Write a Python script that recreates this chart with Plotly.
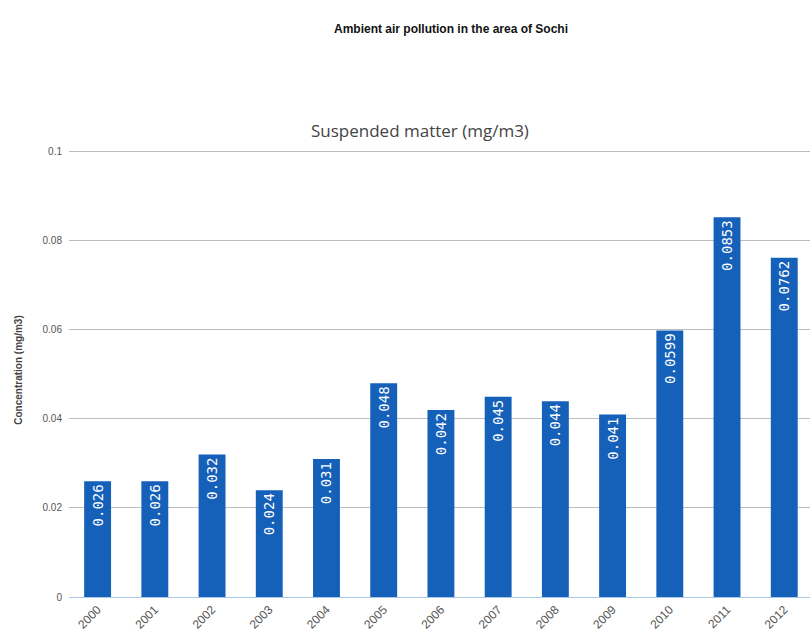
import plotly.graph_objects as go

years = ["2000", "2001", "2002", "2003", "2004", "2005", "2006",
         "2007", "2008", "2009", "2010", "2011", "2012"]
concentration = [0.026, 0.026, 0.032, 0.024, 0.031, 0.048, 0.042,
                 0.045, 0.044, 0.041, 0.0599, 0.0853, 0.0762]
value_labels = ["0.026", "0.026", "0.032", "0.024", "0.031", "0.048", "0.042",
                "0.045", "0.044", "0.041", "0.0599", "0.0853", "0.0762"]
y_ticks = [0, 0.02, 0.04, 0.06, 0.08, 0.1]

bar_color = "#1560b8"

fig = go.Figure(
    go.Bar(
        x=years,
        y=concentration,
        text=value_labels,
        textposition="inside",
        insidetextanchor="end",
        textangle=-90,
        textfont=dict(family="DejaVu Sans Mono", size=14, color="white"),
        marker=dict(color=bar_color, line=dict(width=0)),
        width=0.47,
        cliponaxis=False,
    )
)

top_margin = 143
fig.update_layout(
    width=810,
    height=640,
    margin=dict(l=69, r=0, t=top_margin, b=43),
    paper_bgcolor="white",
    plot_bgcolor="white",
    showlegend=False,
    uniformtext=dict(minsize=8, mode="show"),
    annotations=[
        dict(text="<b>Ambient air pollution in the area of Sochi</b>",
             x=451, y=640 - 20, xref="paper", yref="paper",
             showarrow=False, font=dict(family="Liberation Sans", size=12, color="#111111")),
        dict(text="Suspended matter (mg/m3)",
             x=420, y=640 - 117, xref="paper", yref="paper",
             showarrow=False, font=dict(family="Open Sans", size=17, color="#444444")),
    ],
)

# annotation positions above are given in pixels; convert them to paper units
plot_w = 810 - 69
plot_h = 640 - top_margin - 43
for ann in fig.layout.annotations:
    ann.x = (ann.x - 69) / plot_w
    ann.y = (ann.y - 43) / plot_h

fig.update_xaxes(
    type="category",
    range=[-0.5, 12.45],
    tickangle=-45,
    tickfont=dict(family="Liberation Sans", size=12, color="#555555"),
    showgrid=False,
    showline=True,
    linecolor="#a9c8e8",
    linewidth=1,
    ticks="",
)

fig.update_yaxes(
    range=[0, 0.102],
    tickvals=y_ticks,
    ticktext=["0", "0.02", "0.04", "0.06", "0.08", "0.1"],
    tickfont=dict(family="Liberation Sans", size=10, color="#555555"),
    showgrid=True,
    gridcolor="#bdbdbd",
    gridwidth=1,
    zeroline=False,
    ticklabelstandoff=6,
    title=dict(text="<b>Concentration (mg/m3)</b>",
               font=dict(family="Liberation Sans", size=10, color="#444444"),
               standoff=18),
)

fig.write_html("out.html")
